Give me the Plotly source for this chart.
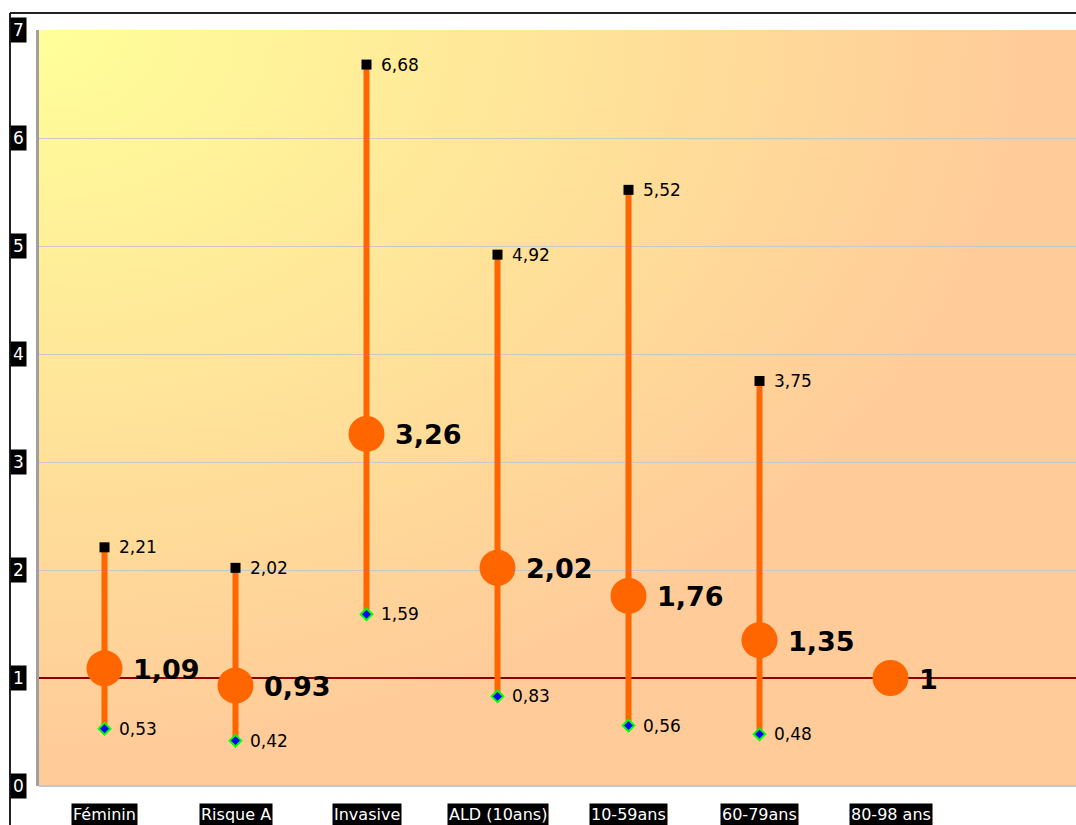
import base64
import plotly.graph_objects as go

categories = ["Féminin", "Risque A", "Invasive", "ALD (10ans)", "10-59ans", "60-79ans", "80-98 ans"]
odds_ratio = [1.09, 0.93, 3.26, 2.02, 1.76, 1.35, 1.0]
ci_low = [0.53, 0.42, 1.59, 0.83, 0.56, 0.48, None]
ci_high = [2.21, 2.02, 6.68, 4.92, 5.52, 3.75, None]
y_ticks = [0, 1, 2, 3, 4, 5, 6, 7]

W, H = 1076, 825
L, T, B = 39, 30, 39
PW, PH = W - L, H - T - B
BAND = 131.0
ORANGE = "#FF6600"


def fmt(v):
    if float(v).is_integer():
        return str(int(v))
    return f"{v:.2f}".replace(".", ",")


def px_x(p):
    return (p - L) / PW


def px_y(p):
    return (H - B - p) / PH


xs = list(range(len(categories)))

# gradient background as svg image
svg = (
    '<svg xmlns="http://www.w3.org/2000/svg" width="100" height="100" preserveAspectRatio="none" viewBox="0 0 100 100">'
    '<defs><radialGradient id="g" cx="0" cy="0" r="0.95" gradientUnits="objectBoundingBox">'
    '<stop offset="0" stop-color="#FFFF99"/><stop offset="1" stop-color="#FFCC99"/>'
    '</radialGradient></defs><rect x="0" y="0" width="100" height="100" fill="url(#g)"/></svg>'
)
svg_uri = "data:image/svg+xml;base64," + base64.b64encode(svg.encode()).decode()

fig = go.Figure()

# reference line at 1 (as a trace so it sits above the grid)
fig.add_trace(go.Scatter(x=[-0.5, 8], y=[1, 1], mode="lines",
                         line=dict(color="#8B0000", width=2), hoverinfo="skip", showlegend=False))

# CI lines
lx, ly = [], []
for x, lo, hi in zip(xs, ci_low, ci_high):
    if lo is None:
        continue
    lx += [x, x, None]
    ly += [lo, hi, None]
fig.add_trace(go.Scatter(x=lx, y=ly, mode="lines", line=dict(color=ORANGE, width=6),
                         hoverinfo="skip", showlegend=False))

# high markers
hx = [x for x, h in zip(xs, ci_high) if h is not None]
hy = [h for h in ci_high if h is not None]
fig.add_trace(go.Scatter(x=hx, y=hy, mode="markers",
                         marker=dict(symbol="square", size=10, color="black"),
                         showlegend=False))
# low markers
lox = [x for x, l in zip(xs, ci_low) if l is not None]
loy = [l for l in ci_low if l is not None]
fig.add_trace(go.Scatter(x=lox, y=loy, mode="markers",
                         marker=dict(symbol="diamond", size=9, color="#0000FF",
                                     line=dict(color="#00FF00", width=2)),
                         showlegend=False))
# OR markers
fig.add_trace(go.Scatter(x=xs, y=odds_ratio, mode="markers",
                         marker=dict(symbol="circle", size=36, color=ORANGE),
                         showlegend=False))

annotations = []
for x, o, lo, hi in zip(xs, odds_ratio, ci_low, ci_high):
    annotations.append(dict(x=x, y=o, xref="x", yref="y", text=fmt(o), showarrow=False,
                            xanchor="left", yanchor="middle", xshift=26, yshift=-1,
                            font=dict(family="DejaVu Sans", size=27, color="black", weight="bold")))
    if hi is not None:
        annotations.append(dict(x=x, y=hi, xref="x", yref="y", text=fmt(hi), showarrow=False,
                                xanchor="left", yanchor="middle", xshift=12,
                                font=dict(family="DejaVu Sans", size=17, color="black")))
    if lo is not None:
        annotations.append(dict(x=x, y=lo, xref="x", yref="y", text=fmt(lo), showarrow=False,
                                xanchor="left", yanchor="middle", xshift=12,
                                font=dict(family="DejaVu Sans", size=17, color="black")))

# y tick labels (white on black)
for t in y_ticks:
    annotations.append(dict(x=px_x(18), y=t, xref="paper", yref="y", text=str(t), showarrow=False,
                            xanchor="center", yanchor="middle", bgcolor="black", borderpad=2,
                            font=dict(family="DejaVu Sans", size=17, color="white")))
# x tick labels
for x, c in zip(xs, categories):
    annotations.append(dict(x=x, y=px_y(814), xref="x", yref="paper", text=c, showarrow=False,
                            xanchor="center", yanchor="middle", bgcolor="black", borderpad=1,
                            font=dict(family="DejaVu Sans", size=16, color="white")))

shapes = [
    # outer frame
    dict(type="line", xref="paper", yref="paper", x0=px_x(10), x1=px_x(W + 5),
         y0=px_y(13), y1=px_y(13), line=dict(color="#222222", width=2), layer="above"),
    dict(type="line", xref="paper", yref="paper", x0=px_x(10), x1=px_x(10),
         y0=px_y(13), y1=px_y(H + 5), line=dict(color="#222222", width=2), layer="above"),
    # bottom axis line
    dict(type="line", xref="paper", yref="paper", x0=0, x1=1, y0=0, y1=0,
         line=dict(color="#C8C8C8", width=2), layer="between"),
]

fig.update_layout(
    width=W, height=H,
    margin=dict(l=L, r=0, t=T, b=B, pad=0),
    paper_bgcolor="white",
    plot_bgcolor="rgba(0,0,0,0)",
    showlegend=False,
    annotations=annotations,
    shapes=shapes,
    images=[dict(source=svg_uri, xref="paper", yref="paper", x=0, y=1, sizex=1, sizey=1,
                 sizing="stretch", xanchor="left", yanchor="top", layer="below")],
    xaxis=dict(range=[-0.5, -0.5 + PW / BAND], showgrid=False, zeroline=False,
               showticklabels=False, ticks="", showline=False, fixedrange=True),
    yaxis=dict(range=[0, 7], tickvals=y_ticks, showgrid=True, gridcolor="#C8C8C8", gridwidth=1,
               zeroline=False, showticklabels=False, ticks="",
               showline=True, linecolor="#A0A0A0", linewidth=3,
               fixedrange=True),
)

fig.write_html("out.html")
